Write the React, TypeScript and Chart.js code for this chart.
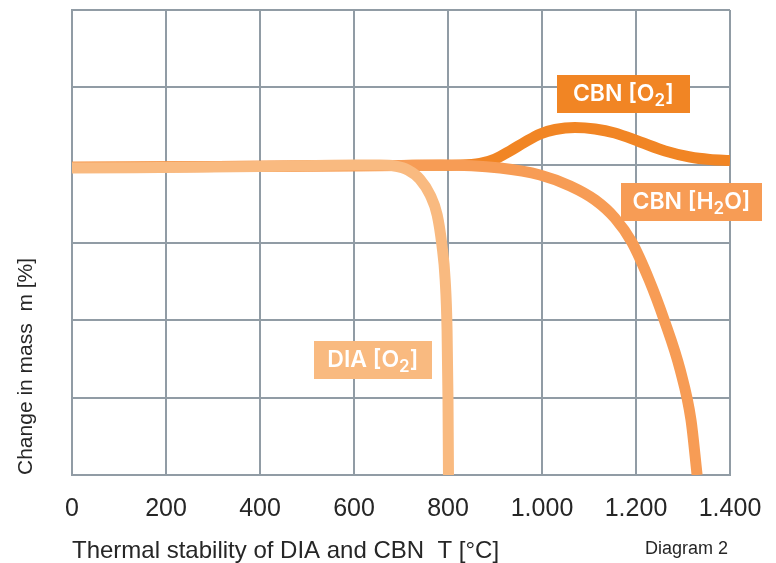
import React, { useEffect, useRef } from "react";
import { Chart, registerables } from "chart.js";

Chart.register(...registerables);

// Temperature (°C) and relative change in mass (arbitrary grid units 0..6)
const diaO2T = [0, 400, 600, 655, 687, 715, 740, 762, 777, 787, 794, 798, 800, 801];
const diaO2M = [3.96, 3.98, 4.0, 4.0, 3.987, 3.935, 3.819, 3.613, 3.355, 2.968, 2.516, 1.871, 0.968, 0];

const cbnH2OT = [0, 400, 700, 783, 911, 996, 1060, 1113, 1155, 1191, 1228, 1260, 1294, 1317, 1330];
const cbnH2OM = [3.97, 3.985, 3.995, 4.0, 3.961, 3.871, 3.729, 3.548, 3.316, 3.006, 2.516, 2.0, 1.355, 0.71, 0];

const cbnO2T = [0, 400, 700, 826, 868, 900, 932, 964, 996, 1028, 1070, 1113, 1155, 1209, 1262, 1315, 1357, 1400];
const cbnO2M = [3.97, 3.985, 3.995, 4.0, 4.019, 4.077, 4.181, 4.297, 4.4, 4.458, 4.484, 4.465, 4.413, 4.297, 4.181, 4.103, 4.071, 4.058];

const xTicks = [0, 200, 400, 600, 800, 1000, 1200, 1400];
const seriesNames = ["DIA [O₂]", "CBN [H₂O]", "CBN [O₂]"];
const seriesColors = ["#f9ba80", "#f79c55", "#f18524"];

// Label annotations: anchor in data coordinates (T, m)
const labelAnchorT = [640, 1318, 1173];
const labelAnchorM = [1.48, 3.52, 4.91];
const labelBoxW = [118, 141, 133];

const GRID = "#919ca5";
const TEXT = "#262626";
const FONT = "'Liberation Sans', Arial, sans-serif";
const LABEL_FONT = "Inter, 'Open Sans', sans-serif";

function fmtTick(v: number): string {
  if (v >= 1000) {
    return Math.floor(v / 1000) + "." + String(v % 1000).padStart(3, "0");
  }
  return String(v);
}

function toPoints(xs: number[], ys: number[]) {
  return xs.map((x, i) => ({ x, y: ys[i] }));
}

const labelPlugin = {
  id: "seriesLabels",
  afterDatasetsDraw(chart: any) {
    const { ctx, scales, chartArea } = chart;
    const xs = scales.x;
    const ys = scales.y;
    ctx.save();
    for (let i = 0; i < seriesNames.length; i++) {
      const cx = xs.getPixelForValue(labelAnchorT[i]);
      const cy = ys.getPixelForValue(labelAnchorM[i]);
      const w = labelBoxW[i];
      const h = 38;
      ctx.fillStyle = seriesColors[i];
      ctx.fillRect(Math.round(cx - w / 2), Math.round(cy - h / 2), w, h);
      const parts: { t: string; sub: boolean }[] = [];
      for (const ch of seriesNames[i]) {
        const isSub = ch === "₂";
        const t = isSub ? "2" : ch;
        const last = parts[parts.length - 1];
        if (last && last.sub === isSub) last.t += t;
        else parts.push({ t, sub: isSub });
      }
      const mainFont = `600 23px ${LABEL_FONT}`;
      const subFont = `600 17px ${LABEL_FONT}`;
      let total = 0;
      for (const p of parts) {
        ctx.font = p.sub ? subFont : mainFont;
        total += ctx.measureText(p.t).width;
      }
      let px = cx - total / 2;
      const baseY = cy + 7;
      ctx.fillStyle = "#ffffff";
      ctx.textBaseline = "alphabetic";
      ctx.textAlign = "left";
      for (const p of parts) {
        ctx.font = p.sub ? subFont : mainFont;
        ctx.fillText(p.t, px, p.sub ? baseY + 5 : baseY);
        px += ctx.measureText(p.t).width;
      }
    }
    ctx.font = `18px ${FONT}`;
    ctx.fillStyle = TEXT;
    ctx.textAlign = "right";
    ctx.textBaseline = "middle";
    ctx.fillText("Diagram 2", chartArea.right - 2, chart.height - 14);
    ctx.restore();
  },
};

export default function App() {
  const ref = useRef<HTMLCanvasElement | null>(null);

  useEffect(() => {
    if (!ref.current) return;
    const series = [
      toPoints(diaO2T, diaO2M),
      toPoints(cbnH2OT, cbnH2OM),
      toPoints(cbnO2T, cbnO2M),
    ];
    const chart = new Chart(ref.current, {
      type: "line",
      data: {
        datasets: series.map((d, i) => ({
          label: seriesNames[i],
          data: d,
          borderColor: seriesColors[i],
          backgroundColor: seriesColors[i],
          borderWidth: 11,
          borderCapStyle: "butt",
          borderJoinStyle: "round",
          pointRadius: 0,
          fill: false,
          cubicInterpolationMode: "monotone",
        })),
      },
      options: {
        responsive: false,
        animation: false,
        layout: { padding: { top: 10, right: 46, bottom: 0, left: 0 } },
        plugins: {
          legend: { display: false },
          tooltip: { enabled: false },
        },
        scales: {
          x: {
            type: "linear",
            min: 0,
            max: 1400,
            afterBuildTicks: (s: any) => {
              s.ticks = xTicks.map((v) => ({ value: v }));
            },
            ticks: {
              callback: (v: any) => fmtTick(Number(v)),
              font: { family: FONT, size: 25 },
              color: TEXT,
              padding: 19,
              maxRotation: 0,
              autoSkip: false,
            },
            grid: { color: GRID, lineWidth: 2, drawTicks: false },
            border: { color: GRID, width: 2 },
            title: {
              display: true,
              text: "Thermal stability of DIA and CBN  T [°C]",
              align: "start",
              color: TEXT,
              font: { family: FONT, size: 24, lineHeight: 1 },
              padding: 0,
            },
            afterFit: (s: any) => {
              s.height = 88;
              s.paddingLeft = 0;
              s.paddingRight = 0;
            },
          },
          y: {
            min: 0,
            max: 6,
            ticks: { display: false, stepSize: 1 },
            grid: { color: GRID, lineWidth: 2, drawTicks: false },
            border: { color: GRID, width: 2 },
            title: {
              display: true,
              text: "Change in mass  m [%]",
              align: "start",
              color: TEXT,
              font: { family: FONT, size: 21, lineHeight: 1.2 },
              padding: { top: 14, bottom: 0 },
            },
            afterFit: (s: any) => {
              s.width = 72;
            },
          },
        },
      } as any,
      plugins: [labelPlugin],
    });
    return () => chart.destroy();
  }, []);

  return (
    <div style={{ position: "absolute", left: 0, top: 0, width: 776, height: 563, background: "#ffffff" }}>
      <canvas ref={ref} width={776} height={563} style={{ display: "block" }} />
    </div>
  );
}
